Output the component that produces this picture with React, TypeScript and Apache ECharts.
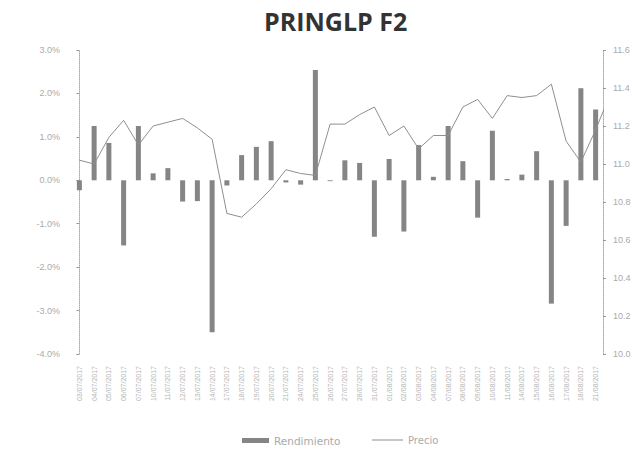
import React, { useEffect, useRef } from "react";
import * as echarts from "echarts";

const title = "PRINGLP F2";
const categories = [
  "03/07/2017", "04/07/2017", "05/07/2017", "06/07/2017", "07/07/2017", "10/07/2017",
  "11/07/2017", "12/07/2017", "13/07/2017", "14/07/2017", "17/07/2017", "18/07/2017",
  "19/07/2017", "20/07/2017", "21/07/2017", "24/07/2017", "25/07/2017", "26/07/2017",
  "27/07/2017", "28/07/2017", "31/07/2017", "01/08/2017", "02/08/2017", "03/08/2017",
  "04/08/2017", "07/08/2017", "08/08/2017", "09/08/2017", "10/08/2017", "11/08/2017",
  "14/08/2017", "15/08/2017", "16/08/2017", "17/08/2017", "18/08/2017", "21/08/2017",
];
const rendimiento = [
  -0.23, 1.25, 0.86, -1.5, 1.25, 0.16, 0.28, -0.49, -0.48, -3.5, -0.12, 0.58,
  0.77, 0.9, -0.05, -0.1, 2.54, -0.02, 0.46, 0.4, -1.3, 0.49, -1.18, 0.81,
  0.08, 1.25, 0.44, -0.86, 1.14, 0.03, 0.13, 0.67, -2.84, -1.05, 2.12, 1.63,
];
const precio = [
  11.02, 11.0, 11.14, 11.23, 11.1, 11.2, 11.22, 11.24, 11.19, 11.13, 10.74, 10.72,
  10.79, 10.87, 10.97, 10.95, 10.94, 11.21, 11.21, 11.26, 11.3, 11.15, 11.2, 11.08,
  11.15, 11.15, 11.3, 11.34, 11.24, 11.36, 11.35, 11.36, 11.42, 11.12, 11.01, 11.18,
  11.37,
];

export default function App() {
  const ref = useRef<HTMLDivElement>(null);
  useEffect(() => {
    if (!ref.current) return;
    const chart = echarts.init(ref.current, null, { renderer: "svg" });
    const font = "'Liberation Sans', Arial, sans-serif";
    const legendFont = "'DejaVu Sans', Verdana, sans-serif";
    chart.setOption({
      animation: false,
      backgroundColor: "#ffffff",
      title: {
        text: title,
        left: 264,
        top: 8,
        padding: 0,
        textStyle: { fontFamily: "'Open Sans', sans-serif", fontWeight: "bold", fontSize: 25, color: "#333" },
      },
      grid: { left: 72, right: 36, top: 50, bottom: 97 },
      legend: [
        {
          data: [{ name: "Rendimiento", icon: "rect" }],
          left: 242,
          top: 435,
          padding: 0,
          itemWidth: 27,
          itemHeight: 5,
          textStyle: { fontFamily: legendFont, fontSize: 10.5, color: "#aaa" },
        },
        {
          data: [{ name: "Precio", icon: "rect" }],
          left: 372,
          top: 435,
          padding: 0,
          itemWidth: 31,
          itemHeight: 1,
          textStyle: { fontFamily: legendFont, fontSize: 10, color: "#aaa" },
        },
      ],
      xAxis: [
        {
          type: "category",
          data: categories,
          position: "bottom",
          axisLine: { show: false, onZero: false },
          axisTick: { show: false },
          axisLabel: { rotate: 90, fontSize: 7, color: "#b5b5b5", fontFamily: font, interval: 0, margin: 12 },
        },
        { type: "value", min: -0.5, max: 35.5, show: false },
      ],
      yAxis: [
        {
          type: "value",
          min: -4,
          max: 3,
          interval: 1,
          splitLine: { show: false },
          axisLine: { show: true, lineStyle: { color: "#aaa", type: "dotted" } },
          axisTick: { show: true, length: 3, lineStyle: { color: "#999" } },
          axisLabel: { fontSize: 9, color: "#aaa", fontFamily: font, margin: 12, formatter: (v: number) => v.toFixed(1) + "%" },
        },
        {
          type: "value",
          min: 10,
          max: 11.6,
          interval: 0.2,
          position: "right",
          splitLine: { show: false },
          axisLine: { show: true, lineStyle: { color: "#aaa", type: "dotted" } },
          axisTick: { show: true, length: 3, lineStyle: { color: "#999" } },
          axisLabel: { fontSize: 9, color: "#aaa", fontFamily: font, margin: 10, formatter: (v: number) => v.toFixed(1) },
        },
      ],
      series: [
        {
          name: "Rendimiento",
          type: "bar",
          data: rendimiento,
          barWidth: 5,
          itemStyle: { color: "#858585" },
        },
        {
          name: "Precio",
          type: "line",
          xAxisIndex: 1,
          yAxisIndex: 1,
          data: precio.map((p, i) => [i, p]),
          clip: true,
          symbol: "none",
          lineStyle: { color: "#8f8f8f", width: 1 },
          itemStyle: { color: "#8f8f8f" },
        },
      ],
    });
    return () => chart.dispose();
  }, []);
  return (
    <div
      ref={ref}
      style={{ position: "absolute", left: 0, top: 0, width: 639, height: 451 }}
    />
  );
}
